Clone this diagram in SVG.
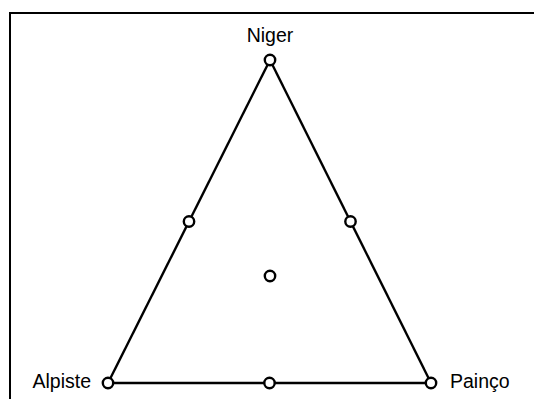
<svg xmlns="http://www.w3.org/2000/svg" width="534" height="399" viewBox="0 0 534 399">
<style>
.edge{stroke:#000;stroke-width:2.4;fill:none}
.node{fill:#fff;stroke:#000;stroke-width:2.4}
.lbl{font-family:"Liberation Sans",Arial,sans-serif;font-size:19.5px;fill:#000}
</style>
<rect x="0" y="0" width="534" height="399" fill="#fff"/>
<path d="M10,400 V13 H535" fill="none" stroke="#000" stroke-width="2"/>
<g id="connectors">
<line class="edge" x1="270" y1="60" x2="108" y2="383"/>
<line class="edge" x1="270" y1="60" x2="431" y2="383"/>
<line class="edge" x1="108" y1="383" x2="431" y2="383"/>
</g>
<g id="niger"><circle class="node" cx="270" cy="60" r="5.2"/><text class="lbl" x="270" y="42" text-anchor="middle">Niger</text></g>
<g id="alpiste"><circle class="node" cx="108" cy="383" r="5.2"/><text class="lbl" x="91" y="388" text-anchor="end">Alpiste</text></g>
<g id="painco"><circle class="node" cx="431" cy="383" r="5.2"/><text class="lbl" x="450" y="388">Painço</text></g>
<g id="mid-left"><circle class="node" cx="189" cy="221.5" r="5.2"/></g>
<g id="mid-right"><circle class="node" cx="350.5" cy="221.5" r="5.2"/></g>
<g id="mid-bottom"><circle class="node" cx="269.5" cy="383" r="5.2"/></g>
<g id="center"><circle class="node" cx="270" cy="276" r="5.2"/></g>
</svg>
